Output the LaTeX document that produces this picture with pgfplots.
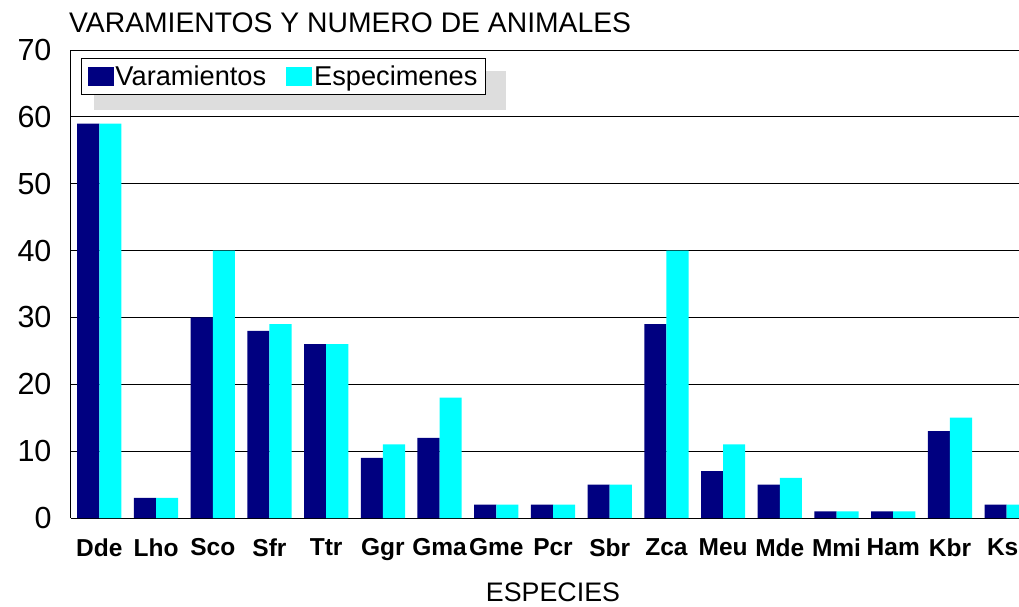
\documentclass[border=0pt]{standalone}
\usepackage{pgfplots}
\pgfplotsset{compat=1.18}
\usepackage{fontspec}
\setmainfont{Liberation Sans}
\definecolor{navyb}{RGB}{0,0,128}
\definecolor{cyanb}{RGB}{0,255,255}
\definecolor{shadowgray}{RGB}{221,221,221}
\begin{document}
\begin{tikzpicture}
\begin{axis}[
  at={(0,0)}, anchor=south west,
  scale only axis,
  width=964pt, height=468pt,
  xmin=-0.5, xmax=16.5,
  ymin=0, ymax=70,
  ytick={0,10,...,70},
  xtick={0,...,16},
  xticklabels={Dde,Lho,Sco,Sfr,Ttr,Ggr,Gma,Gme,Pcr,Sbr,Zca,Meu,Mde,Mmi,Ham,Kbr,Ks\hspace*{8pt}},
  axis x line=bottom, axis y line=left,
  axis line style={-, black, line width=1pt},
  major tick length=0pt,
  ymajorgrids, grid style={black, line width=0.8pt},
  yticklabel style={font=\fontsize{30.5}{34}\selectfont, xshift=-16pt},
  xticklabel style={font=\bfseries\fontsize{24.5}{28}\selectfont, yshift=-17pt},
  /pgf/number format/assume math mode=true,
  ybar, bar width=0.39,
  legend style={at={(0,1)}, xshift=10pt, yshift=-8pt, anchor=north west,
    draw=black, line width=1pt, fill=white,
    font=\fontsize{27.2}{30}\selectfont,
    legend columns=2,
    /tikz/column 2/.style={column sep=18pt},
    /tikz/column 4/.style={column sep=0pt},
    inner xsep=6pt, inner ysep=5.5pt},
  legend image code/.code={\fill[#1] (0pt,-9.5pt) rectangle (26pt,9.5pt);},
  clip=true,
]
\fill[shadowgray] (axis cs:-0.0944,61.0) rectangle (axis cs:7.17,66.9);
\addplot[fill=navyb, draw=none, bar shift=-0.195] coordinates {
(0,59) (1,3) (2,30) (3,28) (4,26) (5,9) (6,12) (7,2) (8,2) (9,5) (10,29) (11,7) (12,5) (13,1) (14,1) (15,13) (16,2)};
\addplot[fill=cyanb, draw=none, bar shift=0.195] coordinates {
(0,59) (1,3) (2,40) (3,29) (4,26) (5,11) (6,18) (7,2) (8,2) (9,5) (10,40) (11,11) (12,6) (13,1) (14,1) (15,15) (16,2)};
\legend{Varamientos,Especimenes}
\end{axis}
\node[anchor=base west, font=\fontsize{28.3}{32}\selectfont, inner sep=0pt] at (-2pt,485pt) {VARAMIENTOS Y NUMERO DE ANIMALES};
\node[anchor=base, font=\fontsize{26.8}{31}\selectfont, inner sep=0pt] at (482pt,-83pt) {ESPECIES};
\pgfresetboundingbox
\useasboundingbox (-71pt,-88pt) rectangle (948pt,518pt);
\end{tikzpicture}
\end{document}
